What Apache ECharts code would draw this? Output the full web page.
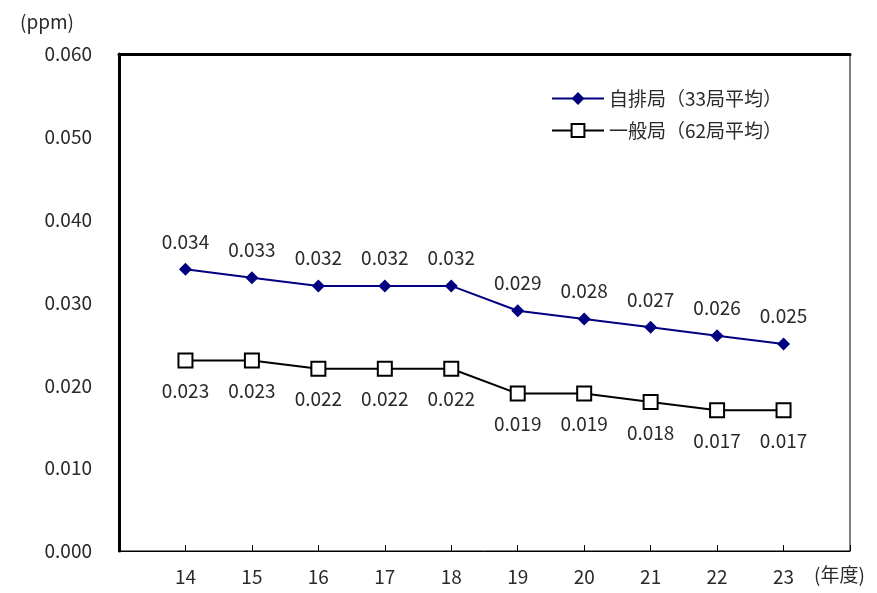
<!DOCTYPE html>
<html>
<head>
<meta charset="utf-8">
<script src="https://cdn.jsdelivr.net/npm/echarts@6/dist/echarts.min.js"></script>
<style>html,body{margin:0;padding:0;background:#fff;}#c{width:877px;height:593px;}</style>
</head>
<body>
<div id="c"></div>
<script>
const categories = ['', '14', '15', '16', '17', '18', '19', '20', '21', '22', '23', ''];
const roadsideName = '自排局（33局平均）';
const roadside = [null, 0.034, 0.033, 0.032, 0.032, 0.032, 0.029, 0.028, 0.027, 0.026, 0.025, null];
const generalName = '一般局（62局平均）';
const general = [null, 0.023, 0.023, 0.022, 0.022, 0.022, 0.019, 0.019, 0.018, 0.017, 0.017, null];
const yTicks = ['0.000', '0.010', '0.020', '0.030', '0.040', '0.050', '0.060'];

const FONT = 'Noto Sans CJK JP';
const TXT = '#2a2a2a';
const FS = 19;
const chart = echarts.init(document.getElementById('c'));
chart.setOption({
  animation: false,
  backgroundColor: '#fff',
  textStyle: { fontFamily: FONT },
  grid: { left: 119, top: 54, right: 27, bottom: 42, show: true, borderColor: '#000', borderWidth: 1, backgroundColor: 'transparent' },
  legend: {
    left: 546, top: 84, orient: 'vertical', itemGap: 13,
    itemWidth: 52, itemHeight: 16,
    textStyle: { fontFamily: FONT, fontSize: 19, color: TXT },
    data: [roadsideName, generalName]
  },
  xAxis: [{
    type: 'category', data: categories, boundaryGap: false, position: 'bottom',
    axisLine: { lineStyle: { color: '#000', width: 1 } },
    axisTick: { inside: true, length: 6, lineStyle: { color: '#000' } },
    axisLabel: { margin: 16, fontSize: FS, color: TXT, fontFamily: FONT },
    splitLine: { show: false }
  }, {
    type: 'category', data: categories, boundaryGap: false, position: 'top',
    axisLine: { lineStyle: { color: '#000', width: 3 } },
    axisTick: { show: false }, axisLabel: { show: false }
  }],
  yAxis: {
    type: 'value', min: 0, max: 0.06, interval: 0.01,
    axisLine: { show: true, lineStyle: { color: '#000', width: 3 } },
    axisTick: { show: false },
    splitLine: { show: false },
    axisLabel: { margin: 27, fontSize: FS, color: TXT, fontFamily: FONT,
      formatter: (v) => yTicks[Math.round(v * 100)] }
  },
  graphic: [
    { type: 'text', left: 20, top: 12, style: { text: '(ppm)', font: FS + 'px "' + FONT + '"', fill: TXT } },
    { type: 'text', left: 814, top: 565, style: { text: '(年度)', font: FS + 'px "' + FONT + '"', fill: TXT } }
  ],
  series: [{
    name: roadsideName, type: 'line', data: roadside,
    symbol: 'diamond', symbolSize: 13,
    itemStyle: { color: '#000080' },
    lineStyle: { color: '#000080', width: 2 },
    label: { show: true, position: 'top', distance: 12, fontSize: FS, color: TXT, fontFamily: FONT,
      formatter: (p) => p.value.toFixed(3) }
  }, {
    name: generalName, type: 'line', data: general,
    symbol: 'rect', symbolSize: 14,
    itemStyle: { color: '#fff', borderColor: '#000', borderWidth: 2 },
    lineStyle: { color: '#000', width: 2 },
    label: { show: true, position: 'bottom', distance: 13, fontSize: FS, color: TXT, fontFamily: FONT,
      formatter: (p) => p.value.toFixed(3) }
  }]
});
</script>
</body>
</html>
